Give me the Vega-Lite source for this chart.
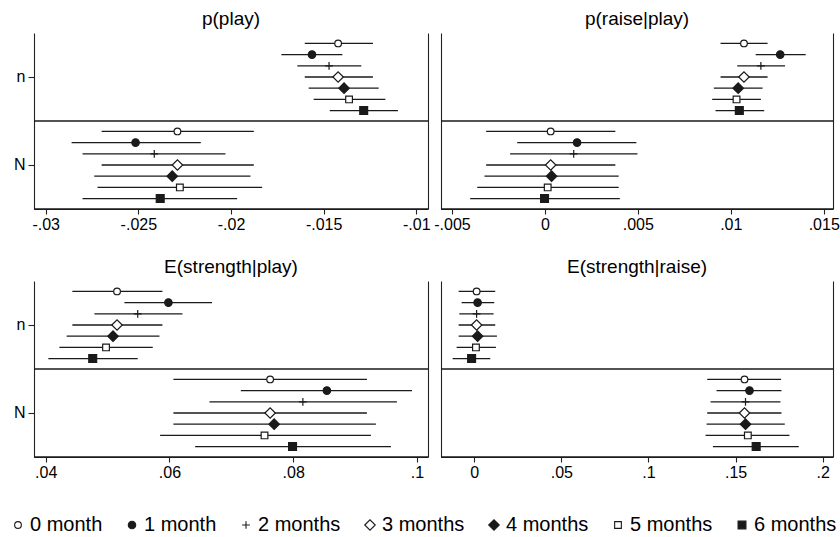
{
  "$schema": "https://vega.github.io/schema/vega-lite/v6.json",
  "background": "white",
  "padding": {"left": 8, "top": 10, "right": 5, "bottom": 5},
  "datasets": {
    "coef": [
      {"panel": "p(play)", "group": "n", "month": "0 month", "est": -0.01422, "lo": -0.01602, "hi": -0.01234},
      {"panel": "p(play)", "group": "n", "month": "1 month", "est": -0.01563, "lo": -0.01728, "hi": -0.01399},
      {"panel": "p(play)", "group": "n", "month": "2 months", "est": -0.01471, "lo": -0.01642, "hi": -0.01297},
      {"panel": "p(play)", "group": "n", "month": "3 months", "est": -0.01422, "lo": -0.01602, "hi": -0.01234},
      {"panel": "p(play)", "group": "n", "month": "4 months", "est": -0.01390, "lo": -0.01581, "hi": -0.01203},
      {"panel": "p(play)", "group": "n", "month": "5 months", "est": -0.01363, "lo": -0.01554, "hi": -0.01167},
      {"panel": "p(play)", "group": "n", "month": "6 months", "est": -0.01284, "lo": -0.01467, "hi": -0.01099},
      {"panel": "p(play)", "group": "N", "month": "0 month", "est": -0.02289, "lo": -0.02698, "hi": -0.01877},
      {"panel": "p(play)", "group": "N", "month": "1 month", "est": -0.02515, "lo": -0.02860, "hi": -0.02163},
      {"panel": "p(play)", "group": "N", "month": "2 months", "est": -0.02414, "lo": -0.02801, "hi": -0.02030},
      {"panel": "p(play)", "group": "N", "month": "3 months", "est": -0.02289, "lo": -0.02698, "hi": -0.01877},
      {"panel": "p(play)", "group": "N", "month": "4 months", "est": -0.02317, "lo": -0.02738, "hi": -0.01895},
      {"panel": "p(play)", "group": "N", "month": "5 months", "est": -0.02276, "lo": -0.02720, "hi": -0.01832},
      {"panel": "p(play)", "group": "N", "month": "6 months", "est": -0.02382, "lo": -0.02801, "hi": -0.01967},
      {"panel": "p(raise|play)", "group": "n", "month": "0 month", "est": 0.01071, "lo": 0.00945, "hi": 0.01198},
      {"panel": "p(raise|play)", "group": "n", "month": "1 month", "est": 0.01266, "lo": 0.01134, "hi": 0.01403},
      {"panel": "p(raise|play)", "group": "n", "month": "2 months", "est": 0.01162, "lo": 0.01035, "hi": 0.01292},
      {"panel": "p(raise|play)", "group": "n", "month": "3 months", "est": 0.01071, "lo": 0.00945, "hi": 0.01198},
      {"panel": "p(raise|play)", "group": "n", "month": "4 months", "est": 0.01040, "lo": 0.00909, "hi": 0.01171},
      {"panel": "p(raise|play)", "group": "n", "month": "5 months", "est": 0.01031, "lo": 0.00900, "hi": 0.01162},
      {"panel": "p(raise|play)", "group": "n", "month": "6 months", "est": 0.01046, "lo": 0.00918, "hi": 0.01180},
      {"panel": "p(raise|play)", "group": "N", "month": "0 month", "est": 0.00031, "lo": -0.00316, "hi": 0.00379},
      {"panel": "p(raise|play)", "group": "N", "month": "1 month", "est": 0.00173, "lo": -0.00149, "hi": 0.00492},
      {"panel": "p(raise|play)", "group": "N", "month": "2 months", "est": 0.00155, "lo": -0.00187, "hi": 0.00498},
      {"panel": "p(raise|play)", "group": "N", "month": "3 months", "est": 0.00031, "lo": -0.00316, "hi": 0.00379},
      {"panel": "p(raise|play)", "group": "N", "month": "4 months", "est": 0.00036, "lo": -0.00325, "hi": 0.00397},
      {"panel": "p(raise|play)", "group": "N", "month": "5 months", "est": 0.00015, "lo": -0.00364, "hi": 0.00397},
      {"panel": "p(raise|play)", "group": "N", "month": "6 months", "est": -0.00002, "lo": -0.00402, "hi": 0.00403},
      {"panel": "E(strength|play)", "group": "n", "month": "0 month", "est": 0.05153, "lo": 0.04431, "hi": 0.05886},
      {"panel": "E(strength|play)", "group": "n", "month": "1 month", "est": 0.05983, "lo": 0.05272, "hi": 0.06689},
      {"panel": "E(strength|play)", "group": "n", "month": "2 months", "est": 0.05487, "lo": 0.04787, "hi": 0.06210},
      {"panel": "E(strength|play)", "group": "n", "month": "3 months", "est": 0.05153, "lo": 0.04431, "hi": 0.05886},
      {"panel": "E(strength|play)", "group": "n", "month": "4 months", "est": 0.05088, "lo": 0.04339, "hi": 0.05838},
      {"panel": "E(strength|play)", "group": "n", "month": "5 months", "est": 0.04975, "lo": 0.04221, "hi": 0.05730},
      {"panel": "E(strength|play)", "group": "n", "month": "6 months", "est": 0.04760, "lo": 0.04043, "hi": 0.05487},
      {"panel": "E(strength|play)", "group": "N", "month": "0 month", "est": 0.07627, "lo": 0.06064, "hi": 0.09191},
      {"panel": "E(strength|play)", "group": "N", "month": "1 month", "est": 0.08544, "lo": 0.07153, "hi": 0.09919},
      {"panel": "E(strength|play)", "group": "N", "month": "2 months", "est": 0.08156, "lo": 0.06646, "hi": 0.09676},
      {"panel": "E(strength|play)", "group": "N", "month": "3 months", "est": 0.07627, "lo": 0.06064, "hi": 0.09191},
      {"panel": "E(strength|play)", "group": "N", "month": "4 months", "est": 0.07692, "lo": 0.06064, "hi": 0.09336},
      {"panel": "E(strength|play)", "group": "N", "month": "5 months", "est": 0.07536, "lo": 0.05849, "hi": 0.09255},
      {"panel": "E(strength|play)", "group": "N", "month": "6 months", "est": 0.07989, "lo": 0.06415, "hi": 0.09579},
      {"panel": "E(strength|raise)", "group": "n", "month": "0 month", "est": 0.00134, "lo": -0.00898, "hi": 0.01203},
      {"panel": "E(strength|raise)", "group": "n", "month": "1 month", "est": 0.00191, "lo": -0.00726, "hi": 0.01146},
      {"panel": "E(strength|raise)", "group": "n", "month": "2 months", "est": 0.00134, "lo": -0.00860, "hi": 0.01108},
      {"panel": "E(strength|raise)", "group": "n", "month": "3 months", "est": 0.00134, "lo": -0.00898, "hi": 0.01203},
      {"panel": "E(strength|raise)", "group": "n", "month": "4 months", "est": 0.00191, "lo": -0.00898, "hi": 0.01299},
      {"panel": "E(strength|raise)", "group": "n", "month": "5 months", "est": 0.00096, "lo": -0.01012, "hi": 0.01242},
      {"panel": "E(strength|raise)", "group": "n", "month": "6 months", "est": -0.00153, "lo": -0.01242, "hi": 0.00917},
      {"panel": "E(strength|raise)", "group": "N", "month": "0 month", "est": 0.15511, "lo": 0.13372, "hi": 0.17612},
      {"panel": "E(strength|raise)", "group": "N", "month": "1 month", "est": 0.15798, "lo": 0.13906, "hi": 0.17631},
      {"panel": "E(strength|raise)", "group": "N", "month": "2 months", "est": 0.15568, "lo": 0.13563, "hi": 0.17574},
      {"panel": "E(strength|raise)", "group": "N", "month": "3 months", "est": 0.15511, "lo": 0.13372, "hi": 0.17631},
      {"panel": "E(strength|raise)", "group": "N", "month": "4 months", "est": 0.15568, "lo": 0.13333, "hi": 0.17822},
      {"panel": "E(strength|raise)", "group": "N", "month": "5 months", "est": 0.15702, "lo": 0.13276, "hi": 0.18090},
      {"panel": "E(strength|raise)", "group": "N", "month": "6 months", "est": 0.16180, "lo": 0.13696, "hi": 0.18625}
    ]
  },
  "data": {"name": "coef"},
  "columns": 2,
  "spacing": {"row": 72, "column": 13},
  "bounds": "flush",
  "concat": [
    {
      "width": 394, "height": 176,
      "title": {"text": "p(play)"},
      "transform": [{"filter": "datum.panel === 'p(play)'"}],
      "layer": [
        {
          "mark": {"type": "rule", "strokeWidth": 1.3, "color": "#1a1a1a"},
          "encoding": {
            "x": {"field": "lo", "type": "quantitative", "title": null,
                  "scale": {"domain": [-0.03063, -0.00937], "nice": false, "zero": false},
                  "axis": {"values": [-0.03, -0.025, -0.02, -0.015, -0.01]}},
            "x2": {"field": "hi"},
            "y": {"field": "group", "type": "nominal", "sort": ["n", "N"], "title": null,
                  "scale": {"paddingInner": 0, "paddingOuter": 0},
                  "axis": {"orient": "left", "labels": true, "ticks": true}},
            "yOffset": {"field": "month", "type": "nominal", "scale": {"paddingInner": 0, "paddingOuter": 0.43}}
          }
        },
        {
          "mark": {"type": "point", "filled": true, "strokeWidth": 1.2, "opacity": 1},
          "encoding": {
            "x": {"field": "est", "type": "quantitative"},
            "y": {"field": "group", "type": "nominal", "sort": ["n", "N"], "axis": null},
            "yOffset": {"field": "month", "type": "nominal"},
            "shape": {"field": "month", "type": "nominal", "title": null,
                      "scale": {"range": ["circle", "circle", "M-1,0H1M0,-1V1", "diamond", "diamond", "square", "square"]},
                      "legend": {"orient": "none", "legendX": -26, "legendY": 482, "direction": "horizontal", "columns": 7}},
            "fill": {"field": "month", "type": "nominal", "title": null,
                     "scale": {"range": ["white", "#1a1a1a", "white", "white", "#1a1a1a", "white", "#1a1a1a"]}},
            "stroke": {"field": "month", "type": "nominal", "title": null,
                       "scale": {"range": ["#1a1a1a", "#1a1a1a", "#1a1a1a", "#1a1a1a", "#1a1a1a", "#1a1a1a", "#1a1a1a"]}},
            "size": {"field": "month", "type": "nominal", "title": null,
                     "scale": {"type": "ordinal", "range": [45, 56, 60, 110, 110, 45, 62]}}
          }
        },
        {
          "mark": {"type": "rule", "strokeWidth": 1.3, "color": "#1a1a1a"},
          "transform": [{"filter": "datum.month === '0 month'"}],
          "encoding": {
            "y": {"field": "group", "type": "nominal", "sort": ["n", "N"], "bandPosition": 1, "title": null,
                  "axis": {"orient": "right", "labels": false, "ticks": false, "domain": true}}
          }
        }
      ],
      "resolve": {"axis": {"y": "independent"}}
    },
    {
      "width": 392, "height": 176,
      "title": {"text": "p(raise|play)"},
      "transform": [{"filter": "datum.panel === 'p(raise|play)'"}],
      "layer": [
        {
          "mark": {"type": "rule", "strokeWidth": 1.3, "color": "#1a1a1a"},
          "encoding": {
            "x": {"field": "lo", "type": "quantitative", "title": null,
                  "scale": {"domain": [-0.00559, 0.0155], "nice": false, "zero": false},
                  "axis": {"values": [-0.005, 0, 0.005, 0.01, 0.015]}},
            "x2": {"field": "hi"},
            "y": {"field": "group", "type": "nominal", "sort": ["n", "N"], "title": null,
                  "scale": {"paddingInner": 0, "paddingOuter": 0},
                  "axis": {"orient": "left", "labels": false, "ticks": false}},
            "yOffset": {"field": "month", "type": "nominal", "scale": {"paddingInner": 0, "paddingOuter": 0.43}}
          }
        },
        {
          "mark": {"type": "point", "filled": true, "strokeWidth": 1.2, "opacity": 1},
          "encoding": {
            "x": {"field": "est", "type": "quantitative"},
            "y": {"field": "group", "type": "nominal", "sort": ["n", "N"], "axis": null},
            "yOffset": {"field": "month", "type": "nominal"},
            "shape": {"field": "month", "type": "nominal", "title": null,
                      "scale": {"range": ["circle", "circle", "M-1,0H1M0,-1V1", "diamond", "diamond", "square", "square"]}},
            "fill": {"field": "month", "type": "nominal", "title": null,
                     "scale": {"range": ["white", "#1a1a1a", "white", "white", "#1a1a1a", "white", "#1a1a1a"]}},
            "stroke": {"field": "month", "type": "nominal", "title": null,
                       "scale": {"range": ["#1a1a1a", "#1a1a1a", "#1a1a1a", "#1a1a1a", "#1a1a1a", "#1a1a1a", "#1a1a1a"]}},
            "size": {"field": "month", "type": "nominal", "title": null,
                     "scale": {"type": "ordinal", "range": [45, 56, 60, 110, 110, 45, 62]}}
          }
        },
        {
          "mark": {"type": "rule", "strokeWidth": 1.3, "color": "#1a1a1a"},
          "transform": [{"filter": "datum.month === '0 month'"}],
          "encoding": {
            "y": {"field": "group", "type": "nominal", "sort": ["n", "N"], "bandPosition": 1, "title": null,
                  "axis": {"orient": "right", "labels": false, "ticks": false, "domain": true}}
          }
        }
      ],
      "resolve": {"axis": {"y": "independent"}}
    },
    {
      "width": 394, "height": 176,
      "title": {"text": "E(strength|play)"},
      "transform": [{"filter": "datum.panel === 'E(strength|play)'"}],
      "layer": [
        {
          "mark": {"type": "rule", "strokeWidth": 1.3, "color": "#1a1a1a"},
          "encoding": {
            "x": {"field": "lo", "type": "quantitative", "title": null,
                  "scale": {"domain": [0.03811, 0.10178], "nice": false, "zero": false},
                  "axis": {"values": [0.04, 0.06, 0.08, 0.1]}},
            "x2": {"field": "hi"},
            "y": {"field": "group", "type": "nominal", "sort": ["n", "N"], "title": null,
                  "scale": {"paddingInner": 0, "paddingOuter": 0},
                  "axis": {"orient": "left", "labels": true, "ticks": true}},
            "yOffset": {"field": "month", "type": "nominal", "scale": {"paddingInner": 0, "paddingOuter": 0.43}}
          }
        },
        {
          "mark": {"type": "point", "filled": true, "strokeWidth": 1.2, "opacity": 1},
          "encoding": {
            "x": {"field": "est", "type": "quantitative"},
            "y": {"field": "group", "type": "nominal", "sort": ["n", "N"], "axis": null},
            "yOffset": {"field": "month", "type": "nominal"},
            "shape": {"field": "month", "type": "nominal", "title": null,
                      "scale": {"range": ["circle", "circle", "M-1,0H1M0,-1V1", "diamond", "diamond", "square", "square"]}},
            "fill": {"field": "month", "type": "nominal", "title": null,
                     "scale": {"range": ["white", "#1a1a1a", "white", "white", "#1a1a1a", "white", "#1a1a1a"]}},
            "stroke": {"field": "month", "type": "nominal", "title": null,
                       "scale": {"range": ["#1a1a1a", "#1a1a1a", "#1a1a1a", "#1a1a1a", "#1a1a1a", "#1a1a1a", "#1a1a1a"]}},
            "size": {"field": "month", "type": "nominal", "title": null,
                     "scale": {"type": "ordinal", "range": [45, 56, 60, 110, 110, 45, 62]}}
          }
        },
        {
          "mark": {"type": "rule", "strokeWidth": 1.3, "color": "#1a1a1a"},
          "transform": [{"filter": "datum.month === '0 month'"}],
          "encoding": {
            "y": {"field": "group", "type": "nominal", "sort": ["n", "N"], "bandPosition": 1, "title": null,
                  "axis": {"orient": "right", "labels": false, "ticks": false, "domain": true}}
          }
        }
      ],
      "resolve": {"axis": {"y": "independent"}}
    },
    {
      "width": 392, "height": 176,
      "title": {"text": "E(strength|raise)"},
      "transform": [{"filter": "datum.panel === 'E(strength|raise)'"}],
      "layer": [
        {
          "mark": {"type": "rule", "strokeWidth": 1.3, "color": "#1a1a1a"},
          "encoding": {
            "x": {"field": "lo", "type": "quantitative", "title": null,
                  "scale": {"domain": [-0.0191, 0.2059], "nice": false, "zero": false},
                  "axis": {"values": [0, 0.05, 0.1, 0.15, 0.2]}},
            "x2": {"field": "hi"},
            "y": {"field": "group", "type": "nominal", "sort": ["n", "N"], "title": null,
                  "scale": {"paddingInner": 0, "paddingOuter": 0},
                  "axis": {"orient": "left", "labels": false, "ticks": false}},
            "yOffset": {"field": "month", "type": "nominal", "scale": {"paddingInner": 0, "paddingOuter": 0.43}}
          }
        },
        {
          "mark": {"type": "point", "filled": true, "strokeWidth": 1.2, "opacity": 1},
          "encoding": {
            "x": {"field": "est", "type": "quantitative"},
            "y": {"field": "group", "type": "nominal", "sort": ["n", "N"], "axis": null},
            "yOffset": {"field": "month", "type": "nominal"},
            "shape": {"field": "month", "type": "nominal", "title": null,
                      "scale": {"range": ["circle", "circle", "M-1,0H1M0,-1V1", "diamond", "diamond", "square", "square"]}},
            "fill": {"field": "month", "type": "nominal", "title": null,
                     "scale": {"range": ["white", "#1a1a1a", "white", "white", "#1a1a1a", "white", "#1a1a1a"]}},
            "stroke": {"field": "month", "type": "nominal", "title": null,
                       "scale": {"range": ["#1a1a1a", "#1a1a1a", "#1a1a1a", "#1a1a1a", "#1a1a1a", "#1a1a1a", "#1a1a1a"]}},
            "size": {"field": "month", "type": "nominal", "title": null,
                     "scale": {"type": "ordinal", "range": [45, 56, 60, 110, 110, 45, 62]}}
          }
        },
        {
          "mark": {"type": "rule", "strokeWidth": 1.3, "color": "#1a1a1a"},
          "transform": [{"filter": "datum.month === '0 month'"}],
          "encoding": {
            "y": {"field": "group", "type": "nominal", "sort": ["n", "N"], "bandPosition": 1, "title": null,
                  "axis": {"orient": "right", "labels": false, "ticks": false, "domain": true}}
          }
        }
      ],
      "resolve": {"axis": {"y": "independent"}}
    }
  ],
  "config": {
    "font": "Liberation Sans",
    "view": {"stroke": null},
    "title": {"fontSize": 19, "fontWeight": "normal", "color": "black", "offset": 4},
    "axis": {
      "domainColor": "#222", "domainWidth": 1.1, "tickColor": "#222", "tickWidth": 1.1,
      "labelColor": "black", "labelFontSize": 16, "grid": false, "labelFlush": false
    },
    "axisX": {
      "tickSize": 5, "labelPadding": 2,
      "labelExpr": "datum.value === 0 ? '0' : replace(replace(format(datum.value, '~g'), '0.', '.'), '\u2212', '-')"
    },
    "axisY": {"tickSize": 6, "labelPadding": 3},
    "legend": {
      "labelFontSize": 20, "labelColor": "black", "symbolStrokeWidth": 1.1,
      "labelOffset": 2, "columnPadding": 19, "gridAlign": "each", "padding": 0
    }
  }
}
